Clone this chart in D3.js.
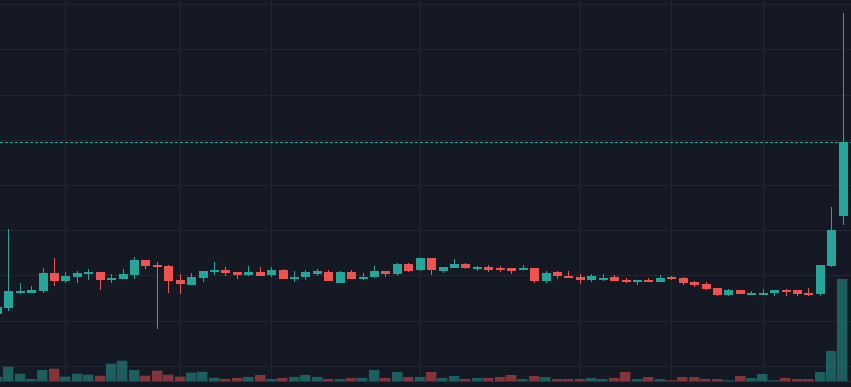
<!DOCTYPE html>
<html>
<head>
<meta charset="utf-8">
<script src="https://cdn.jsdelivr.net/npm/d3@7"></script>
<style>
  html, body { margin: 0; padding: 0; background: #151924; }
  #chart { width: 851px; height: 387px; overflow: hidden; }
  svg { display: block; }
</style>
</head>
<body>
<div id="chart"></div>
<script>
// price data, one entry per bar (first bar is cut off at the left edge)
const opens = [1.579, 1.643, 1.816, 1.813, 1.827, 2.027, 1.941, 1.986, 2.015, 2.038,
  1.952, 1.964, 2.008, 2.170, 2.118, 2.107, 1.946, 1.897, 1.971, 2.038,
  2.060, 2.038, 2.001, 2.038, 1.997, 2.060, 1.964, 1.975, 2.019, 2.038,
  1.924, 2.038, 1.964, 1.975, 2.049, 2.015, 2.126, 2.052, 2.189, 2.049,
  2.085, 2.126, 2.082, 2.096, 2.082, 2.082, 2.060, 2.082, 1.941, 2.034,
  1.993, 1.982, 1.941, 1.966, 1.982, 1.952, 1.930, 1.952, 1.930, 1.982,
  1.975, 1.930, 1.905, 1.861, 1.783, 1.839, 1.794, 1.794, 1.802, 1.839,
  1.839, 1.809, 1.794, 2.096, 2.649];
const highs = [1.673, 2.517, 1.916, 1.883, 2.082, 2.196, 2.038, 2.052, 2.074, 2.043,
  2.019, 2.068, 2.204, 2.176, 2.148, 2.110, 2.015, 2.027, 2.054, 2.148,
  2.093, 2.043, 2.104, 2.093, 2.093, 2.068, 2.052, 2.060, 2.074, 2.060,
  2.049, 2.060, 2.030, 2.104, 2.054, 2.132, 2.132, 2.193, 2.193, 2.098,
  2.178, 2.140, 2.107, 2.115, 2.107, 2.087, 2.112, 2.087, 2.052, 2.049,
  2.049, 2.012, 2.012, 2.012, 2.004, 1.968, 1.952, 1.968, 2.004, 1.993,
  1.979, 1.935, 1.924, 1.864, 1.853, 1.842, 1.827, 1.846, 1.842, 1.846,
  1.842, 1.857, 2.118, 2.753, 4.899];
const lows = [1.562, 1.614, 1.798, 1.802, 1.809, 1.890, 1.919, 1.919, 1.957, 1.842,
  1.919, 1.957, 1.957, 2.074, 1.410, 1.798, 1.798, 1.894, 1.927, 2.001,
  1.993, 1.964, 1.993, 1.993, 1.982, 1.960, 1.930, 1.949, 2.001, 1.938,
  1.916, 1.960, 1.949, 1.971, 1.993, 1.993, 2.034, 2.049, 2.008, 2.030,
  2.074, 2.076, 2.052, 2.041, 2.045, 2.023, 2.052, 1.919, 1.924, 1.964,
  1.971, 1.902, 1.919, 1.930, 1.938, 1.916, 1.902, 1.930, 1.927, 1.946,
  1.886, 1.872, 1.839, 1.772, 1.772, 1.794, 1.787, 1.787, 1.772, 1.772,
  1.780, 1.772, 1.772, 2.093, 2.550];
const closes = [1.656, 1.827, 1.827, 1.842, 2.027, 1.941, 1.993, 2.027, 2.041, 1.952,
  1.975, 2.015, 2.170, 2.107, 2.096, 1.941, 1.897, 1.982, 2.049, 2.060,
  2.030, 2.008, 2.038, 1.997, 2.056, 1.964, 1.986, 2.034, 2.049, 1.941,
  2.041, 1.964, 1.986, 2.045, 2.015, 2.126, 2.052, 2.189, 2.052, 2.090,
  2.126, 2.082, 2.096, 2.068, 2.068, 2.052, 2.082, 1.935, 2.027, 1.986,
  1.975, 1.946, 1.990, 1.977, 1.941, 1.935, 1.949, 1.935, 1.975, 1.960,
  1.916, 1.894, 1.853, 1.787, 1.839, 1.798, 1.805, 1.809, 1.839, 1.824,
  1.794, 1.794, 2.115, 2.499, 3.472];
const volumes = [46, 146, 76, 23, 113, 126, 46, 76, 66, 56,
  176, 206, 113, 56, 106, 66, 46, 86, 95, 35,
  23, 33, 43, 63, 23, 33, 43, 63, 43, 23,
  23, 33, 33, 113, 33, 93, 43, 43, 93, 33,
  53, 23, 33, 33, 43, 63, 23, 53, 43, 23,
  23, 23, 33, 23, 33, 93, 23, 43, 23, 10,
  43, 43, 23, 23, 10, 53, 33, 73, 10, 33,
  23, 23, 93, 303, 1023];
// bars where the time axis draws a vertical grid line
const timeTicks = [6, 16, 24, 37, 51, 59, 67];

class CandleChart {
  constructor({ el }) {
    this.el = el;
    this.initVis();
  }

  initVis() {
    const vis = this;
    vis.width = 851;
    vis.height = 387;
    vis.colors = {
      up: "#26a69a",
      down: "#ef5350",
      grid: "#222633",
      border: "#2f3341",
    };

    vis.data = opens.map((o, i) => ({
      i,
      open: o,
      high: highs[i],
      low: lows[i],
      close: closes[i],
      volume: volumes[i],
      up: closes[i] >= o,
    }));

    vis.barSpacing = 11.43;
    vis.bodyWidth = 9;
    vis.x = d3
      .scaleLinear()
      .domain([0, vis.data.length - 1])
      .range([-3.13, -3.13 + vis.barSpacing * (vis.data.length - 1)]);
    vis.y = d3.scaleLinear().domain([1, 5]).range([365.8, 4.3]);
    vis.yVol = d3
      .scaleLinear()
      .domain([0, d3.max(vis.data, (d) => d.volume)])
      .range([381.3, 279]);

    vis.svg = d3
      .select(vis.el)
      .append("svg")
      .attr("width", vis.width)
      .attr("height", vis.height);

    vis.svg
      .append("rect")
      .attr("width", vis.width)
      .attr("height", vis.height)
      .attr("fill", "#151924");

    vis.updateVis();
  }

  updateVis() {
    const vis = this;
    const px = (v) => Math.round(v) + 0.5;
    const color = (d) => (d.up ? vis.colors.up : vis.colors.down);

    // Grid
    const grid = vis.svg.append("g").attr("class", "grid");
    grid
      .selectAll(".h")
      .data(vis.y.ticks(8))
      .join("line")
      .attr("class", "h")
      .attr("x1", 0)
      .attr("x2", vis.width)
      .attr("y1", (d) => px(vis.y(d)))
      .attr("y2", (d) => px(vis.y(d)))
      .attr("stroke", vis.colors.grid);
    grid
      .selectAll(".v")
      .data(timeTicks)
      .join("line")
      .attr("class", "v")
      .attr("x1", (d) => px(vis.x(d)))
      .attr("x2", (d) => px(vis.x(d)))
      .attr("y1", 0)
      .attr("y2", 381)
      .attr("stroke", vis.colors.grid);

    // Volume
    vis.svg
      .append("g")
      .attr("class", "volume")
      .selectAll("rect")
      .data(vis.data)
      .join("rect")
      .attr("x", (d) => Math.round(vis.x(d.i) - 5.2))
      .attr("width", 10.4)
      .attr("y", (d) => vis.yVol(d.volume))
      .attr("height", (d) => vis.yVol(0) - vis.yVol(d.volume))
      .attr("fill", color)
      .attr("fill-opacity", 0.5);

    vis.svg
      .append("line")
      .attr("x1", 0)
      .attr("x2", vis.width)
      .attr("y1", 381.5)
      .attr("y2", 381.5)
      .attr("stroke", vis.colors.border);

    // Candles
    const candle = vis.svg
      .append("g")
      .attr("class", "candles")
      .attr("shape-rendering", "crispEdges")
      .selectAll("g")
      .data(vis.data)
      .join("g")
      .attr("transform", (d) => `translate(${Math.round(vis.x(d.i))},0)`);
    candle
      .append("rect")
      .attr("class", "wick")
      .attr("x", 0)
      .attr("width", 1)
      .attr("y", (d) => Math.round(vis.y(d.high)))
      .attr("height", (d) => Math.round(vis.y(d.low) - vis.y(d.high)))
      .attr("fill", color);
    candle
      .append("rect")
      .attr("class", "body")
      .attr("x", -Math.floor(vis.bodyWidth / 2))
      .attr("width", vis.bodyWidth)
      .attr("y", (d) => Math.round(vis.y(Math.max(d.open, d.close))))
      .attr("height", (d) =>
        Math.max(2, Math.round(Math.abs(vis.y(d.open) - vis.y(d.close))))
      )
      .attr("fill", color);

    // Last price line
    const last = vis.data[vis.data.length - 1];
    vis.svg
      .append("line")
      .attr("x1", 0)
      .attr("x2", vis.width)
      .attr("y1", px(vis.y(last.close)))
      .attr("y2", px(vis.y(last.close)))
      .attr("stroke", color(last))
      .attr("stroke-dasharray", "3,2");
  }
}

new CandleChart({ el: document.getElementById("chart") });
</script>
</body>
</html>
